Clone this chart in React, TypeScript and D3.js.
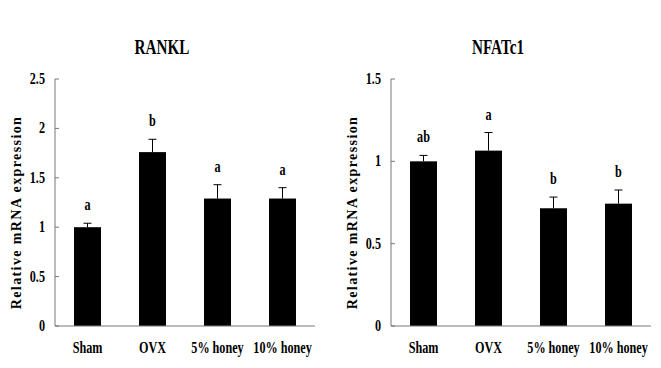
import React from 'react';
import * as d3 from 'd3';

const groups = ['Sham', 'OVX', '5% honey', '10% honey'];

const ranklMean = [1.0, 1.76, 1.29, 1.29];
const ranklErr = [0.04, 0.13, 0.14, 0.11];
const ranklSig = ['a', 'b', 'a', 'a'];
const ranklTicks = [0, 0.5, 1, 1.5, 2, 2.5];

const nfatMean = [1.0, 1.065, 0.715, 0.743];
const nfatErr = [0.036, 0.11, 0.068, 0.083];
const nfatSig = ['ab', 'a', 'b', 'b'];
const nfatTicks = [0, 0.5, 1, 1.5];

const FONT = '"Liberation Serif", "Times New Roman", serif';
const SX = 0.76; // the original glyphs are squeezed horizontally

function Txt(props: { x: number; y: number; size: number; children: any; anchor?: string }) {
  const { x, y, size, children, anchor } = props;
  return (
    <text
      transform={`translate(${x},${y}) scale(${SX},1)`}
      textAnchor={anchor || 'middle'}
      fontFamily={FONT}
      fontWeight="bold"
      fontSize={size}
      fill="#000"
    >
      {children}
    </text>
  );
}

function Panel(props: {
  left: number;
  title: string;
  mean: number[];
  err: number[];
  sig: string[];
  ticks: number[];
  max: number;
}) {
  const { left, title, mean, err, sig, ticks, max } = props;
  const top = 79;
  const bottom = 326;
  const width = 260;

  const x = d3.scaleBand().domain(groups).range([left, left + width]).padding(0);
  const y = d3.scaleLinear().domain([0, max]).range([bottom, top]);
  const barW = x.bandwidth() * 0.415;
  const fmt = (v: number) => String(v);

  return (
    <g>
      <Txt x={left + width / 2 - 23} y={54} size={20}>{title}</Txt>

      <text
        transform={`translate(${left - 34},${(top + bottom) / 2 + 10}) rotate(-90)`}
        textAnchor="middle"
        fontFamily={FONT}
        fontWeight="bold"
        fontSize={14}
        letterSpacing={1.4}
      >
        Relative mRNA expression
      </text>

      {mean.map((m, i) => {
        const cx = (x(groups[i]) as number) + x.bandwidth() / 2;
        const yTop = y(m + err[i]);
        return (
          <g key={groups[i]}>
            <rect x={cx - barW / 2} y={y(m)} width={barW} height={bottom - y(m)} fill="#000" />
            <line x1={cx} x2={cx} y1={y(m)} y2={yTop} stroke="#000" strokeWidth={1} />
            <line x1={cx - 4} x2={cx + 4} y1={yTop} y2={yTop} stroke="#000" strokeWidth={1} />
            <Txt x={cx} y={yTop - 13} size={16}>{sig[i]}</Txt>
            <Txt x={cx} y={bottom + 27} size={16}>{groups[i]}</Txt>
          </g>
        );
      })}

      <line x1={left} x2={left} y1={top} y2={bottom} stroke="#777" strokeWidth={1} />
      <line x1={left} x2={left + width} y1={bottom} y2={bottom} stroke="#777" strokeWidth={1} />
      {ticks.map((t) => (
        <g key={t}>
          <line x1={left} x2={left + 4} y1={y(t)} y2={y(t)} stroke="#777" strokeWidth={1} />
          <Txt x={left - 10} y={y(t) + 5} size={16} anchor="end">{fmt(t)}</Txt>
        </g>
      ))}
    </g>
  );
}

export default function App() {
  return (
    <svg width={661} height={368} style={{ position: 'absolute', left: 0, top: 0, background: '#fff' }}>
      <rect width={661} height={368} fill="#fff" />
      <Panel left={55} title="RANKL" mean={ranklMean} err={ranklErr} sig={ranklSig} ticks={ranklTicks} max={2.5} />
      <Panel left={391} title="NFATc1" mean={nfatMean} err={nfatErr} sig={nfatSig} ticks={nfatTicks} max={1.5} />
    </svg>
  );
}
